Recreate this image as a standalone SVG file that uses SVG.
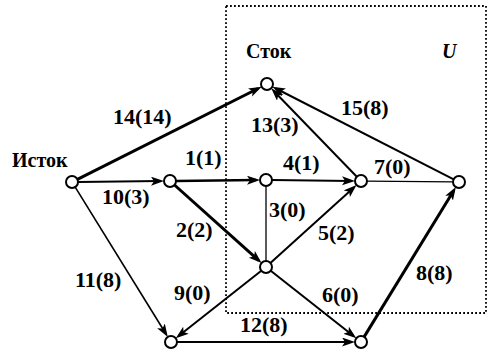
<svg xmlns="http://www.w3.org/2000/svg" width="488" height="353" viewBox="0 0 488 353">
<style>
.e{stroke:#000;fill:none;stroke-width:2}
.t{stroke-width:3}
.n{stroke-width:1.3}
.a{marker-end:url(#ah)}
.nd{fill:#fff;stroke:#000;stroke-width:2}
text{font-family:"Liberation Serif","Times New Roman",serif;font-size:20px;font-weight:bold;fill:#000}
.l{font-size:22px}
.box{fill:none;stroke:#000;stroke-width:1.8;stroke-dasharray:1.8 2.2}
</style>
<defs>
<marker id="ah" markerUnits="userSpaceOnUse" markerWidth="14" markerHeight="10" refX="9" refY="4.5" orient="auto">
<path d="M0,0 L13,4.5 L0,9 L3,4.5 z" fill="#000"/>
</marker>
</defs>
<rect class="box" x="226" y="6" width="260" height="307"/>
<g id="connectors">
<line class="e t a" x1="77.4" y1="179.3" x2="258.1" y2="88.5"/>
<line class="e a" x1="78" y1="181.9" x2="160" y2="181.1"/>
<line class="e a" style="stroke-width:1.6" x1="75.2" y1="187.1" x2="165.7" y2="333.5"/>
<line class="e a" style="stroke-width:2.5" x1="176" y1="180.9" x2="256" y2="180.1"/>
<line class="e t a" x1="174.5" y1="185" x2="258.6" y2="260.3"/>
<line class="e n" x1="266" y1="186" x2="266" y2="261"/>
<line class="e a" x1="272" y1="180.1" x2="351" y2="180.9"/>
<line class="e a" x1="356.8" y1="176.7" x2="274" y2="91.2"/>
<line class="e a" x1="453.7" y1="179.3" x2="275.9" y2="88.5"/>
<line class="e n" x1="367" y1="181.1" x2="453" y2="181.9"/>
<line class="e a" x1="270.4" y1="263" x2="353.6" y2="187.7"/>
<line class="e a" x1="270.7" y1="270.7" x2="353.2" y2="335.8"/>
<line class="e a" x1="261.3" y1="270.7" x2="178.9" y2="335.8"/>
<line class="e a" x1="177" y1="342" x2="351" y2="342"/>
<line class="e t a" x1="364.1" y1="336.9" x2="453.8" y2="190.5"/>
</g>
<g id="source"><circle class="nd" cx="72" cy="182" r="6"/><text x="12" y="167">Исток</text></g>
<g id="sink"><circle class="nd" cx="267" cy="84" r="6"/><text x="246" y="58">Сток</text></g>
<g id="nA"><circle class="nd" cx="170" cy="181" r="6"/></g>
<g id="nB"><circle class="nd" cx="266" cy="180" r="6"/></g>
<g id="nC"><circle class="nd" cx="361" cy="181" r="6"/></g>
<g id="nD"><circle class="nd" cx="459" cy="182" r="6"/></g>
<g id="nE"><circle class="nd" cx="266" cy="267" r="6"/></g>
<g id="nF"><circle class="nd" cx="171" cy="342" r="6"/></g>
<g id="nG"><circle class="nd" cx="361" cy="342" r="6"/></g>
<g id="labels">
<text x="442" y="58" font-style="italic">U</text>
<text class="l" x="113" y="124">14(14)</text>
<text class="l" x="185" y="165">1(1)</text>
<text class="l" x="251" y="132">13(3)</text>
<text class="l" x="341" y="115">15(8)</text>
<text class="l" x="283" y="170">4(1)</text>
<text class="l" x="374" y="174">7(0)</text>
<text class="l" x="102" y="204">10(3)</text>
<text class="l" x="176" y="237">2(2)</text>
<text class="l" x="75" y="287">11(8)</text>
<text class="l" x="174" y="300">9(0)</text>
<text class="l" x="269" y="217">3(0)</text>
<text class="l" x="318" y="240">5(2)</text>
<text class="l" x="416" y="280">8(8)</text>
<text class="l" x="322" y="302">6(0)</text>
<text class="l" x="240" y="332">12(8)</text>
</g>
</svg>
